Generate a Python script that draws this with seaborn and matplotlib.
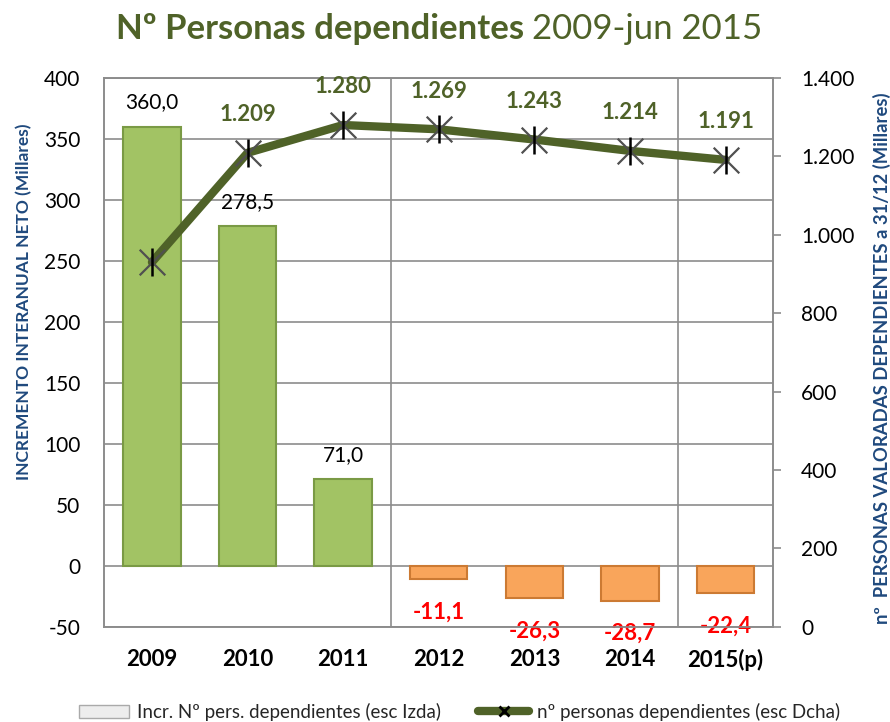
import numpy as np
import pandas as pd
import matplotlib
matplotlib.use("Agg")
import matplotlib.pyplot as plt
import seaborn as sns
from matplotlib.lines import Line2D
from matplotlib.patches import Patch

# ---- data ----
years = ["2009", "2010", "2011", "2012", "2013", "2014", "2015(p)"]
incremento = [360.0, 278.5, 71.0, -11.1, -26.3, -28.7, -22.4]
personas = [930, 1209, 1280, 1269, 1243, 1214, 1191]
incr_labels = ["360,0", "278,5", "71,0", "-11,1", "-26,3", "-28,7", "-22,4"]
pers_labels = ["", "1.209", "1.280", "1.269", "1.243", "1.214", "1.191"]
left_ticks = [-50, 0, 50, 100, 150, 200, 250, 300, 350, 400]
right_ticks = [0, 200, 400, 600, 800, 1000, 1200, 1400]
right_tick_labels = ["0", "200", "400", "600", "800", "1.000", "1.200", "1.400"]

OLIVE = "#4F6228"
BLUE = "#1F497D"
GRID = "#8C8C8C"

sns.set_theme(style="white")
plt.rcParams['font.family'] = ['Lato', 'DejaVu Sans']

fig = plt.figure(figsize=(8.9, 7.22), dpi=100)
ax = fig.add_axes([0.117, 0.132, 0.752, 0.760])

df = pd.DataFrame({"year": years, "incr": incremento, "pers": personas})
pos = np.arange(len(years))
bar_colors = ["#A2C364" if v >= 0 else "#F9A55B" for v in incremento]
edge_colors = ["#7A9A45" if v >= 0 else "#CC7A33" for v in incremento]

sns.barplot(data=df, x="year", y="incr", hue="year", palette=bar_colors,
            legend=False, width=0.6, ax=ax, saturation=1)
for patch, ec in zip(ax.patches, edge_colors):
    patch.set_edgecolor(ec)
    patch.set_linewidth(1.5)

ax.set_ylim(-50, 400)
ax.set_xlim(-0.5, 6.5)
ax.set_yticks(left_ticks)
ax.set_yticklabels([str(t) for t in left_ticks])
ax.yaxis.grid(True, color=GRID, lw=1.2)
ax.set_xticks([2.5, 5.5], minor=True)
ax.xaxis.grid(True, which="minor", color=GRID, lw=1.2)
ax.set_axisbelow(True)
for s in ax.spines.values():
    s.set_color(GRID)
    s.set_linewidth(1.2)
ax.tick_params(axis="y", which="both", length=0, labelsize=15, pad=17, labelcolor="black")
ax.tick_params(axis="x", which="both", length=0, labelsize=16, pad=16, labelcolor="black")
for lab in ax.get_xticklabels():
    lab.set_fontweight("bold")
ax.set_xlabel("")
ax.set_ylabel("INCREMENTO INTERANUAL NETO (Millares)", color=BLUE,
              fontsize=12.5, fontweight="bold")
ax.yaxis.set_label_coords(-0.108, 0.592)

# bar labels
for i, v in enumerate(incremento):
    if v >= 0:
        ax.text(i, v + 20, incr_labels[i], ha="center", va="center",
                fontsize=15, color="black")
    else:
        ax.text(i, v - 27, incr_labels[i], ha="center", va="center",
                fontsize=16, color="#FF0000", fontweight="bold")

# line on right axis
ax2 = ax.twinx()
sns.lineplot(x=pos, y=personas, ax=ax2, color=OLIVE, lw=6, sort=False)
sns.scatterplot(x=pos, y=personas, ax=ax2, marker="x", s=340, color="#505050",
                linewidth=1.6, zorder=5)
sns.scatterplot(x=pos, y=personas, ax=ax2, marker="|", s=400, color="black",
                linewidth=1.8, zorder=6)
ax2.set_ylim(0, 1400)
ax2.set_xlim(-0.5, 6.5)
ax2.set_yticks(right_ticks)
ax2.set_yticklabels(right_tick_labels)
ax2.tick_params(axis="y", length=6, width=1.2, color=GRID, labelsize=15,
                pad=14, labelcolor="black")
ax2.grid(False)
for s in ax2.spines.values():
    s.set_color(GRID)
    s.set_linewidth(1.2)
ax2.set_ylabel("nº  PERSONAS VALORADAS DEPENDIENTES a 31/12 (Millares)",
               color=BLUE, fontsize=13.3, fontweight="bold")
ax2.yaxis.set_label_coords(1.148, 0.49)

for i, v in enumerate(personas):
    if pers_labels[i]:
        ax2.text(i, v + 97, pers_labels[i], ha="center", va="center",
                 fontsize=16, color=OLIVE, fontweight="bold")

# title
fig.text(0.589, 0.960, "Nº Personas dependientes", ha="right", va="center",
         fontsize=25, fontweight="bold", color=OLIVE)
fig.text(0.598, 0.960, "2009-jun 2015", ha="left", va="center",
         fontsize=25, color=OLIVE)

# legend
handles = [
    Patch(facecolor="#EDEDED", edgecolor="#AAAAAA"),
    Line2D([0], [0], color=OLIVE, lw=6, marker="x", markersize=7,
           markeredgecolor="black", markeredgewidth=2),
]
labels = ["Incr. Nº pers. dependientes (esc Izda)",
          "nº personas dependientes (esc Dcha)"]
fig.legend(handles, labels, loc="lower center", bbox_to_anchor=(0.516, -0.022),
           ncol=2, frameon=False, fontsize=13.5, handlelength=2.7,
           columnspacing=2.0, handletextpad=0.4)

fig.savefig("out.png", dpi=100)
